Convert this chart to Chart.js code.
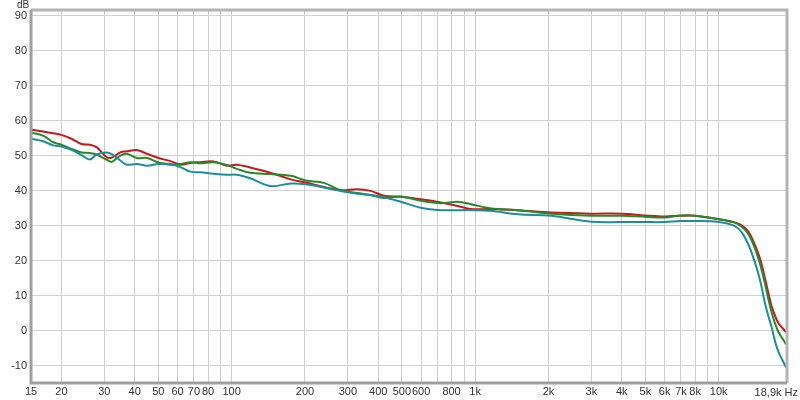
<!DOCTYPE html>
<html>
<head>
<meta charset="utf-8">
<script src="https://cdn.jsdelivr.net/npm/chart.js@4.4.1/dist/chart.umd.min.js"></script>
<style>
  html, body { margin: 0; padding: 0; background: #fff; }
  #wrap { width: 800px; height: 400px; }
</style>
</head>
<body>
<div id="wrap"><canvas id="fr"></canvas></div>
<script>
// Frequency points (Hz) shared by all three traces
const freqs = [15, 16.8, 18.5, 20, 22, 24.2, 26.2, 27.9, 30.7, 32.2, 34.9, 37.1, 40.8, 44.9, 50.1, 56, 61.5, 67.7, 74.4, 84.4, 95.7, 105,
  119, 144, 175, 201, 239, 280, 328, 372, 422, 495, 598, 723, 847, 961, 1162, 1496, 2051,
  3000, 4000, 5000, 6000, 7000, 8000, 10000, 11600,
  12400, 13200, 14100, 14800, 15500, 16000, 16500, 17000, 17600, 18900];

const redDb = [57.5, 57.0, 56.5, 56.0, 54.9, 53.4, 53.2, 52.5, 49.6, 49.5, 51.0, 51.3, 51.7, 50.6, 49.4, 48.5, 47.5, 48.0, 48.2, 48.4, 47.2, 47.5,
  46.7, 45.2, 43.3, 42.4, 41.1, 40.2, 40.5, 40.0, 38.6, 38.3, 37.6, 36.7, 35.7, 34.8, 34.8, 34.5, 33.8,
  33.5, 33.5, 33.0, 32.7, 32.9, 32.9, 31.9, 31.0,
  30.2, 28.5, 24.5, 20.5, 15.0, 10.8, 7.0, 4.5, 2.2, -0.3];

const greenDb = [56.6, 55.8, 53.9, 53.2, 52.0, 51.0, 50.8, 50.4, 48.9, 48.3, 50.1, 50.6, 49.4, 49.4, 48.1, 47.5, 47.7, 48.2, 47.9, 48.2, 47.4, 46.3,
  45.2, 44.8, 44.3, 43.0, 42.3, 40.2, 39.4, 38.8, 38.0, 38.4, 37.2, 36.5, 36.9, 36.2, 35.0, 34.5, 33.5,
  32.9, 32.9, 32.6, 32.4, 33.0, 32.9, 31.9, 31.0,
  29.8, 27.8, 23.5, 19.0, 13.5, 9.0, 5.3, 2.3, -0.3, -3.8];

const tealDb = [54.9, 54.2, 53.0, 52.7, 51.7, 50.2, 49.0, 50.4, 51.0, 50.5, 48.7, 47.5, 47.7, 47.2, 47.7, 47.7, 46.8, 45.5, 45.3, 44.9, 44.6, 44.6,
  43.6, 41.4, 42.1, 41.9, 41.0, 40.0, 39.2, 38.8, 38.2, 36.9, 35.2, 34.5, 34.5, 34.5, 34.3, 33.3, 32.9,
  31.2, 31.1, 31.1, 31.1, 31.4, 31.4, 31.1, 30.0,
  28.3, 24.9, 19.5, 14.4, 7.8, 4.2, 1.1, -2.7, -6.0, -10.4];

// Axis ticks
const yTickValues = [-10, 0, 10, 20, 30, 40, 50, 60, 70, 80, 90];
const xTickValues = [15, 20, 30, 40, 50, 60, 70, 80, 90, 100, 200, 300, 400, 500, 600, 700, 800, 900,
  1000, 2000, 3000, 4000, 5000, 6000, 7000, 8000, 9000, 10000, 18900];
const xTickLabels = ['15', '20', '30', '40', '50', '60', '70', '80', '', '100', '200', '300', '400', '500', '600', '', '800', '',
  '1k', '2k', '3k', '4k', '5k', '6k', '7k', '8k', '', '10k', ''];
const lastLabel = '18,9k Hz';

const toPoints = ys => freqs.map((f, i) => ({ x: f, y: ys[i] }));

const FONT = { family: "'Liberation Sans', Arial, sans-serif", size: 11 };

// frame + unit labels
const framePlugin = {
  id: 'frame',
  afterDraw(chart) {
    const { ctx, chartArea: a } = chart;
    ctx.save();
    ctx.strokeStyle = '#b4b4b4';
    ctx.lineWidth = 3;
    ctx.beginPath();
    ctx.moveTo(a.left, a.top - 1);
    ctx.lineTo(a.right + 1, a.top - 1);
    ctx.lineTo(a.right + 1, a.bottom + 1);
    ctx.stroke();
    ctx.strokeStyle = '#a0a0a0';
    ctx.beginPath();
    ctx.moveTo(a.left, a.top - 1);
    ctx.lineTo(a.left, a.bottom + 1);
    ctx.lineTo(a.right + 1, a.bottom + 1);
    ctx.stroke();

    ctx.fillStyle = '#333';
    ctx.font = "10px 'Liberation Sans', Arial, sans-serif";
    ctx.textBaseline = 'top';
    ctx.textAlign = 'left';
    ctx.fillText('dB', 17, 0);

    ctx.font = "11px 'Liberation Sans', Arial, sans-serif";
    ctx.textAlign = 'right';
    ctx.fillText(lastLabel, 798, a.bottom + 5);
    ctx.restore();
  }
};

new Chart(document.getElementById('fr'), {
  type: 'scatter',
  data: {
    datasets: [
      { label: 'R', data: toPoints(redDb), borderColor: '#c41c1c', order: 3 },
      { label: 'G', data: toPoints(greenDb), borderColor: '#27892a', order: 2 },
      { label: 'T', data: toPoints(tealDb), borderColor: '#1d8e98', order: 1 }
    ].map(d => Object.assign(d, {
      showLine: true, pointRadius: 0, borderWidth: 2, tension: 0.35, fill: false
    }))
  },
  options: {
    responsive: true,
    maintainAspectRatio: false,
    animation: false,
    layout: { padding: { top: 11, right: 14, left: 0, bottom: 0 } },
    plugins: { legend: { display: false }, tooltip: { enabled: false } },
    scales: {
      x: {
        type: 'logarithmic',
        min: 15,
        max: 18900,
        afterBuildTicks(scale) { scale.ticks = xTickValues.map(v => ({ value: v })); },
        afterFit(scale) { scale.height = 18; },
        ticks: {
          autoSkip: false,
          maxRotation: 0,
          padding: 3,
          color: '#333',
          font: FONT,
          callback: (v, i) => xTickLabels[i]
        },
        grid: { color: '#cfcfcf', lineWidth: 1, drawTicks: false, tickLength: 0 },
        border: { display: false }
      },
      y: {
        min: -14.6,
        max: 91.4,
        afterBuildTicks(scale) { scale.ticks = yTickValues.map(v => ({ value: v })); },
        afterFit(scale) { scale.width = 31; },
        ticks: { padding: 4, color: '#333', font: FONT },
        grid: { color: '#d2d2d2', lineWidth: 1, drawTicks: false, tickLength: 0 },
        border: { display: false }
      }
    }
  },
  plugins: [framePlugin]
});
</script>
</body>
</html>
